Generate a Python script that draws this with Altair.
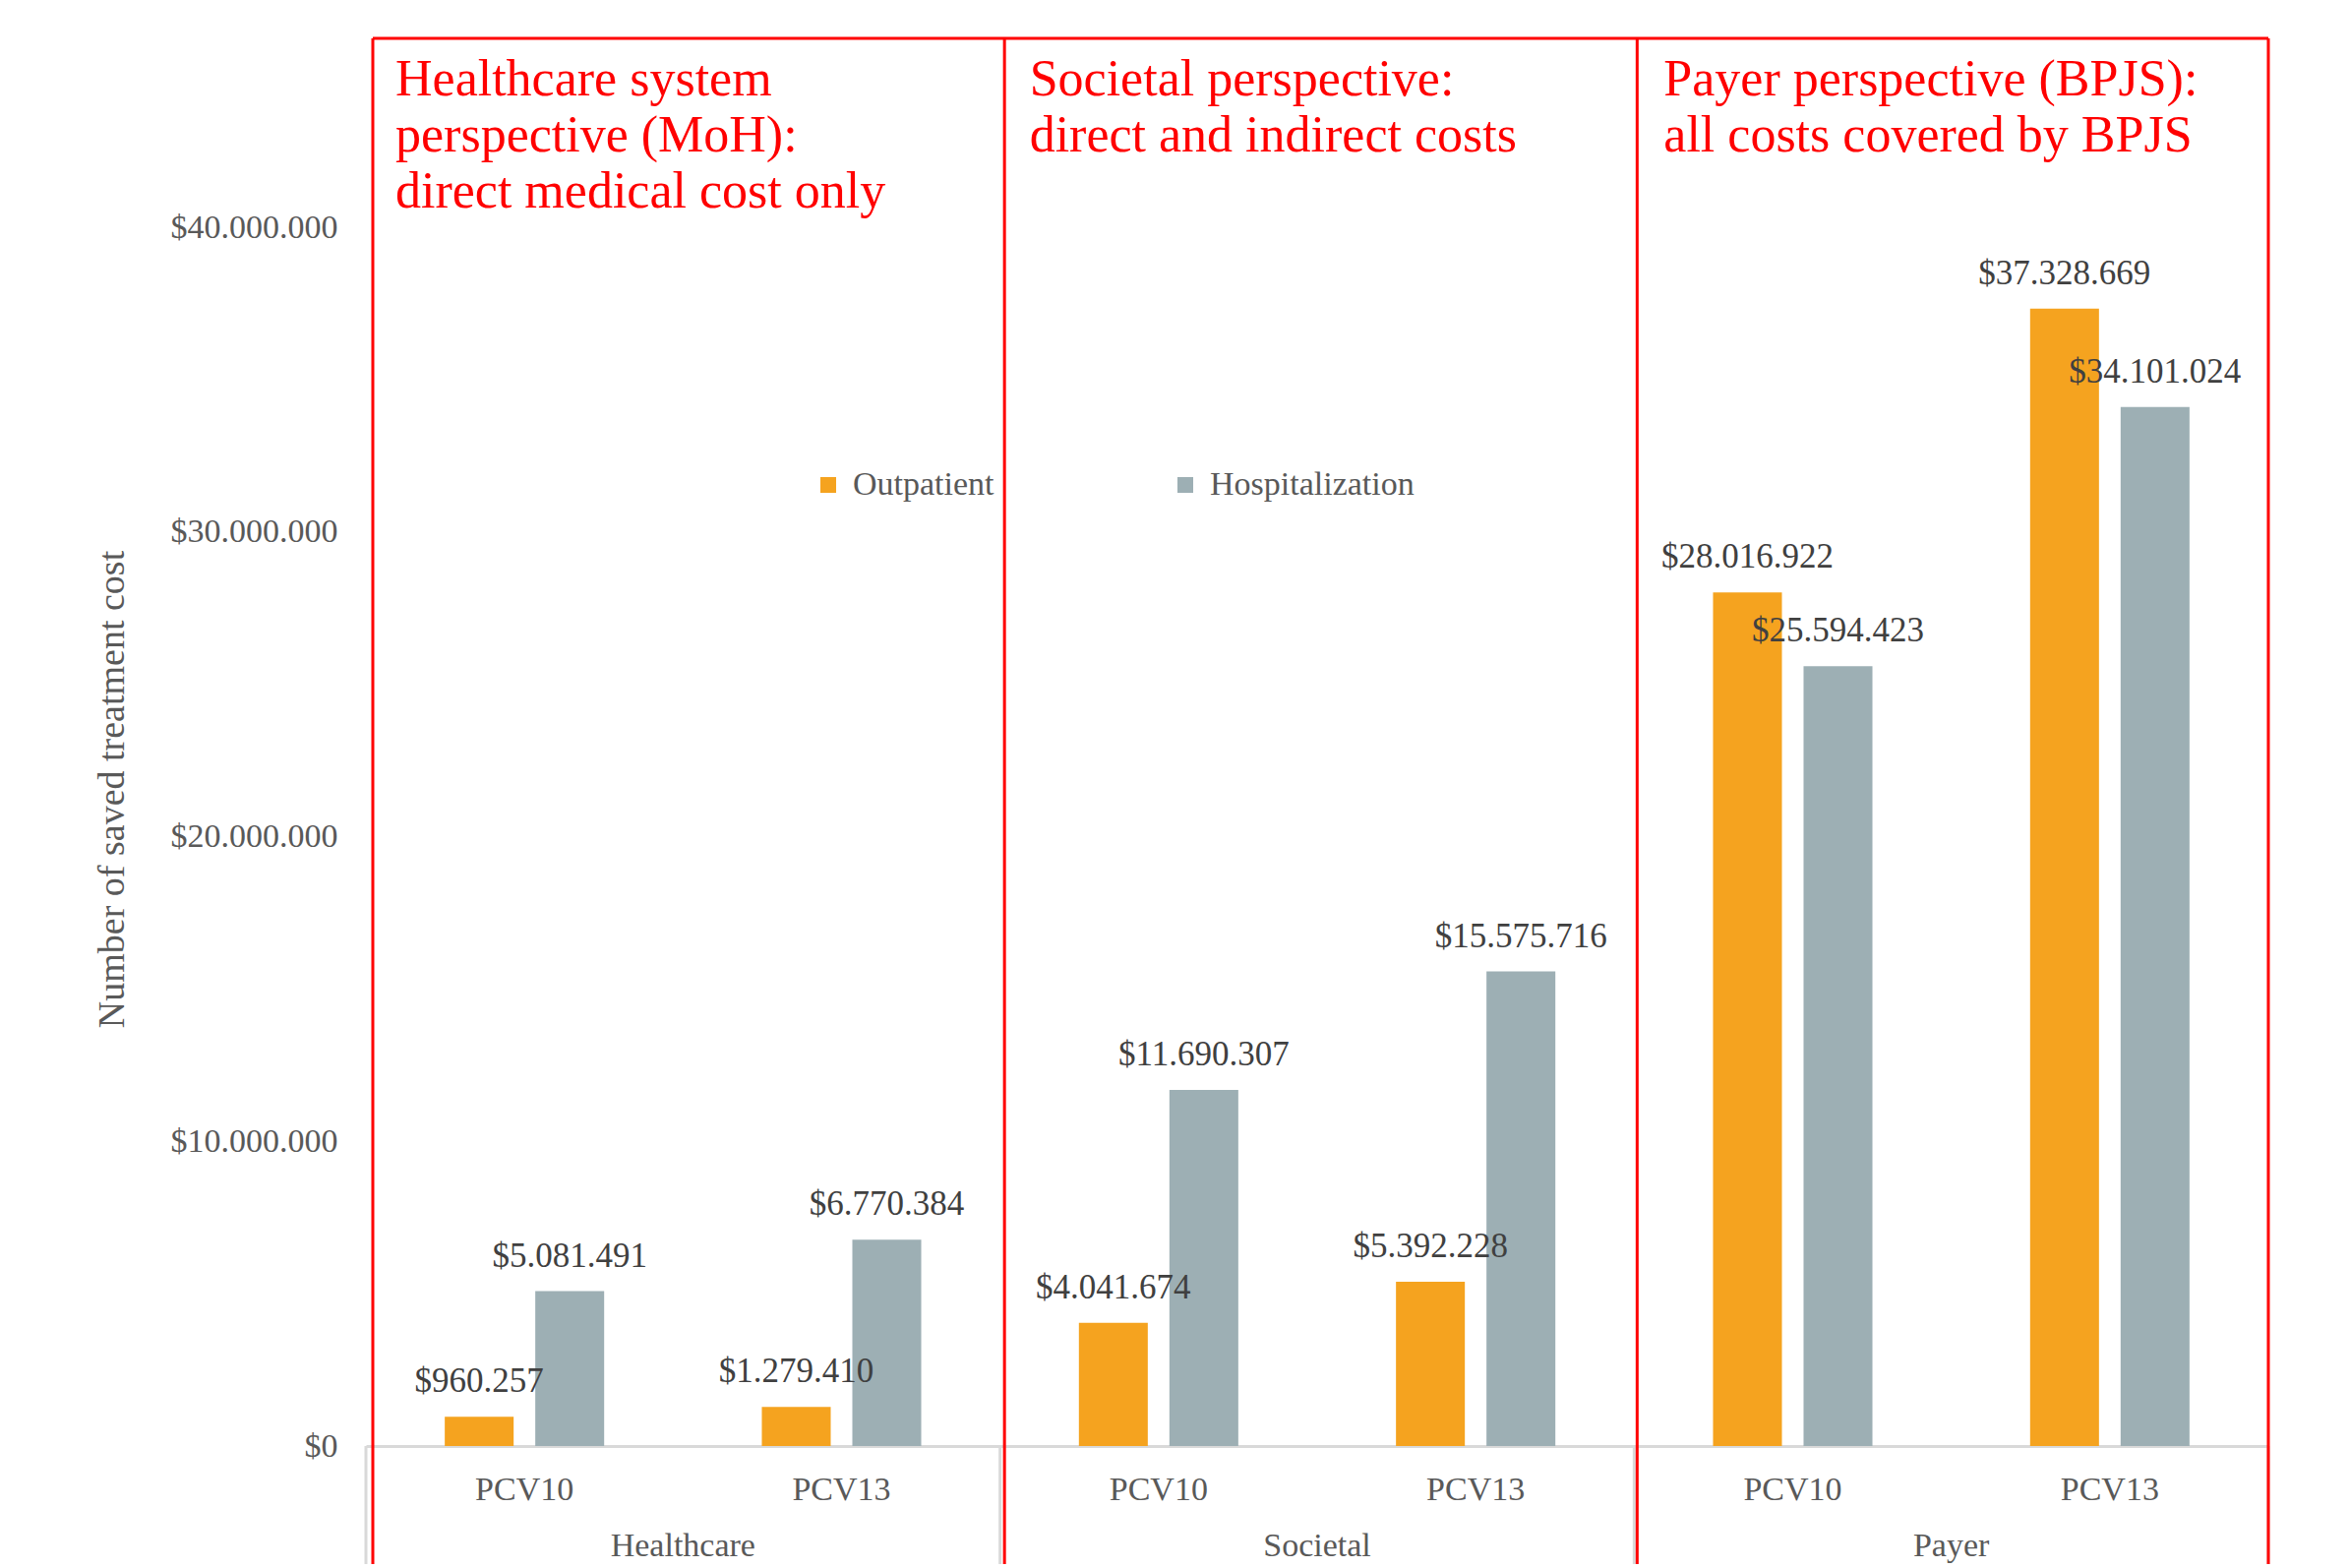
import altair as alt
import pandas as pd

# ---- data ----
groups = ["Healthcare", "Societal", "Payer"]
vaccines = ["PCV10", "PCV13"]
series = ["Outpatient", "Hospitalization"]
outpatient = [960257, 1279410, 4041674, 5392228, 28016922, 37328669]
hospitalization = [5081491, 6770384, 11690307, 15575716, 25594423, 34101024]
y_ticks = [0, 10000000, 20000000, 30000000, 40000000]
panel_titles = [
    "Healthcare system\nperspective (MoH):\ndirect medical cost only",
    "Societal perspective:\ndirect and indirect costs",
    "Payer perspective (BPJS):\nall costs covered by BPJS",
]
colors = ["#F5A31F", "#9DAFB4"]
y_title = "Number of saved treatment cost"

keys = [f"{g}|{v}" for g in groups for v in vaccines]
rows = []
for i, k in enumerate(keys):
    for s, vals in zip(series, [outpatient, hospitalization]):
        v = vals[i]
        rows.append({"key": k, "series": s, "value": v,
                     "label": "$" + f"{v:,}".replace(",", ".")})
df = pd.DataFrame(rows)

W, H = 1934, 1431
FONT = "Liberation Serif"
GREY_TXT = "#595959"


def xs():
    return alt.Scale(domain=keys, paddingInner=0, paddingOuter=0)


x_axis = alt.Axis(title=None, labelExpr="split(datum.label, '|')[1]",
                  labelFontSize=34, labelColor=GREY_TXT, labelFont=FONT,
                  labelPadding=27, labelAngle=0, ticks=False,
                  domainColor="#D9D9D9", domainWidth=3)
y_axis = alt.Axis(values=y_ticks,
                  labelExpr="'$' + replace(format(datum.value, ',.0f'), regexp(',', 'g'), '.')",
                  grid=False, domain=False, ticks=False,
                  labelFontSize=34, labelColor=GREY_TXT, labelFont=FONT, labelPadding=29,
                  title=y_title, titleFontSize=38, titleColor=GREY_TXT, titleFont=FONT,
                  titleFontWeight="normal", titleY=763, titlePadding=40)
y_scale = alt.Scale(domain=[0, 46200000], nice=False, zero=True)

x_enc = alt.X("key:N", sort=keys, scale=xs(), axis=x_axis)
xoff = alt.XOffset("series:N", sort=series,
                   scale=alt.Scale(domain=series, paddingInner=0.239, paddingOuter=0.871))
y_enc = alt.Y("value:Q", scale=y_scale, axis=y_axis)

bars = alt.Chart(df).mark_bar().encode(
    x=x_enc, xOffset=xoff, y=y_enc,
    color=alt.Color("series:N", sort=series,
                    scale=alt.Scale(domain=series, range=colors),
                    legend=alt.Legend(title=None, orient="none", legendX=453, legendY=437,
                                      direction="horizontal", symbolType="square",
                                      symbolSize=256, symbolStrokeWidth=0,
                                      labelFontSize=34, labelColor=GREY_TXT, labelFont=FONT,
                                      labelOffset=8, labelLimit=500, columnPadding=177,
                                      padding=0)),
)

labels = alt.Chart(df).mark_text(dy=-25, baseline="alphabetic", fontSize=35,
                                 color="#404040", font=FONT).encode(
    x=x_enc, xOffset=xoff, y=y_enc, text="label:N")

# grey separators of the multi-level category axis
sep_layers = []
for k, bp in [(keys[0], 0.0), (keys[2], 0.0), (keys[4], 0.0), (keys[5], 1.0)]:
    sep_layers.append(
        alt.Chart(pd.DataFrame({"key": [k]})).mark_rule(color="#D9D9D9", strokeWidth=3).encode(
            x=alt.X("key:N", sort=keys, scale=xs(), bandPosition=bp, title=None),
            y=alt.value(H), y2=alt.value(H + 200)))

# group labels below axis
grp_df = pd.DataFrame({"key": [keys[1], keys[3], keys[5]], "grp": groups})
grp = alt.Chart(grp_df).mark_text(baseline="middle", fontSize=34, color=GREY_TXT,
                                  font=FONT).encode(
    x=alt.X("key:N", sort=keys, scale=xs(), bandPosition=0, title=None),
    y=alt.value(H + 102), text="grp:N")

# red panel frames
red_layers = []
for k, bp in [(keys[0], 7 / 322.3), (keys[2], 4.5 / 322.3), (keys[4], 3 / 322.3), (keys[5], 1.0)]:
    red_layers.append(
        alt.Chart(pd.DataFrame({"key": [k]})).mark_rule(color="#FF0000", strokeWidth=3).encode(
            x=alt.X("key:N", sort=keys, scale=xs(), bandPosition=bp, title=None),
            y=alt.value(0), y2=alt.value(H + 200)))
top_rule = alt.Chart(pd.DataFrame({"key": [keys[0]], "key2": [keys[5]]})).mark_rule(
    color="#FF0000", strokeWidth=3).encode(
    x=alt.X("key:N", sort=keys, scale=xs(), bandPosition=7 / 322.3, title=None),
    x2=alt.X2("key2", bandPosition=1),
    y=alt.value(0))

title_df = pd.DataFrame({"key": [keys[0], keys[2], keys[4]], "t": panel_titles})
titles = alt.Chart(title_df).mark_text(align="left", baseline="alphabetic", dx=30,
                                       fontSize=52, color="#FF0000", font=FONT,
                                       lineBreak="\n", lineHeight=57).encode(
    x=alt.X("key:N", sort=keys, scale=xs(), bandPosition=0, title=None),
    y=alt.value(58), text="t:N")

chart = alt.layer(bars, labels, *sep_layers, grp, *red_layers, top_rule, titles).properties(
    width=W, height=H,
    padding={"left": 364, "top": 31, "right": 70, "bottom": 120},
    autosize=alt.AutoSizeParams(type="none"),
    background="white",
).configure_view(stroke=None)

chart.save("out.html", embed_options={"renderer": "svg", "actions": False})
